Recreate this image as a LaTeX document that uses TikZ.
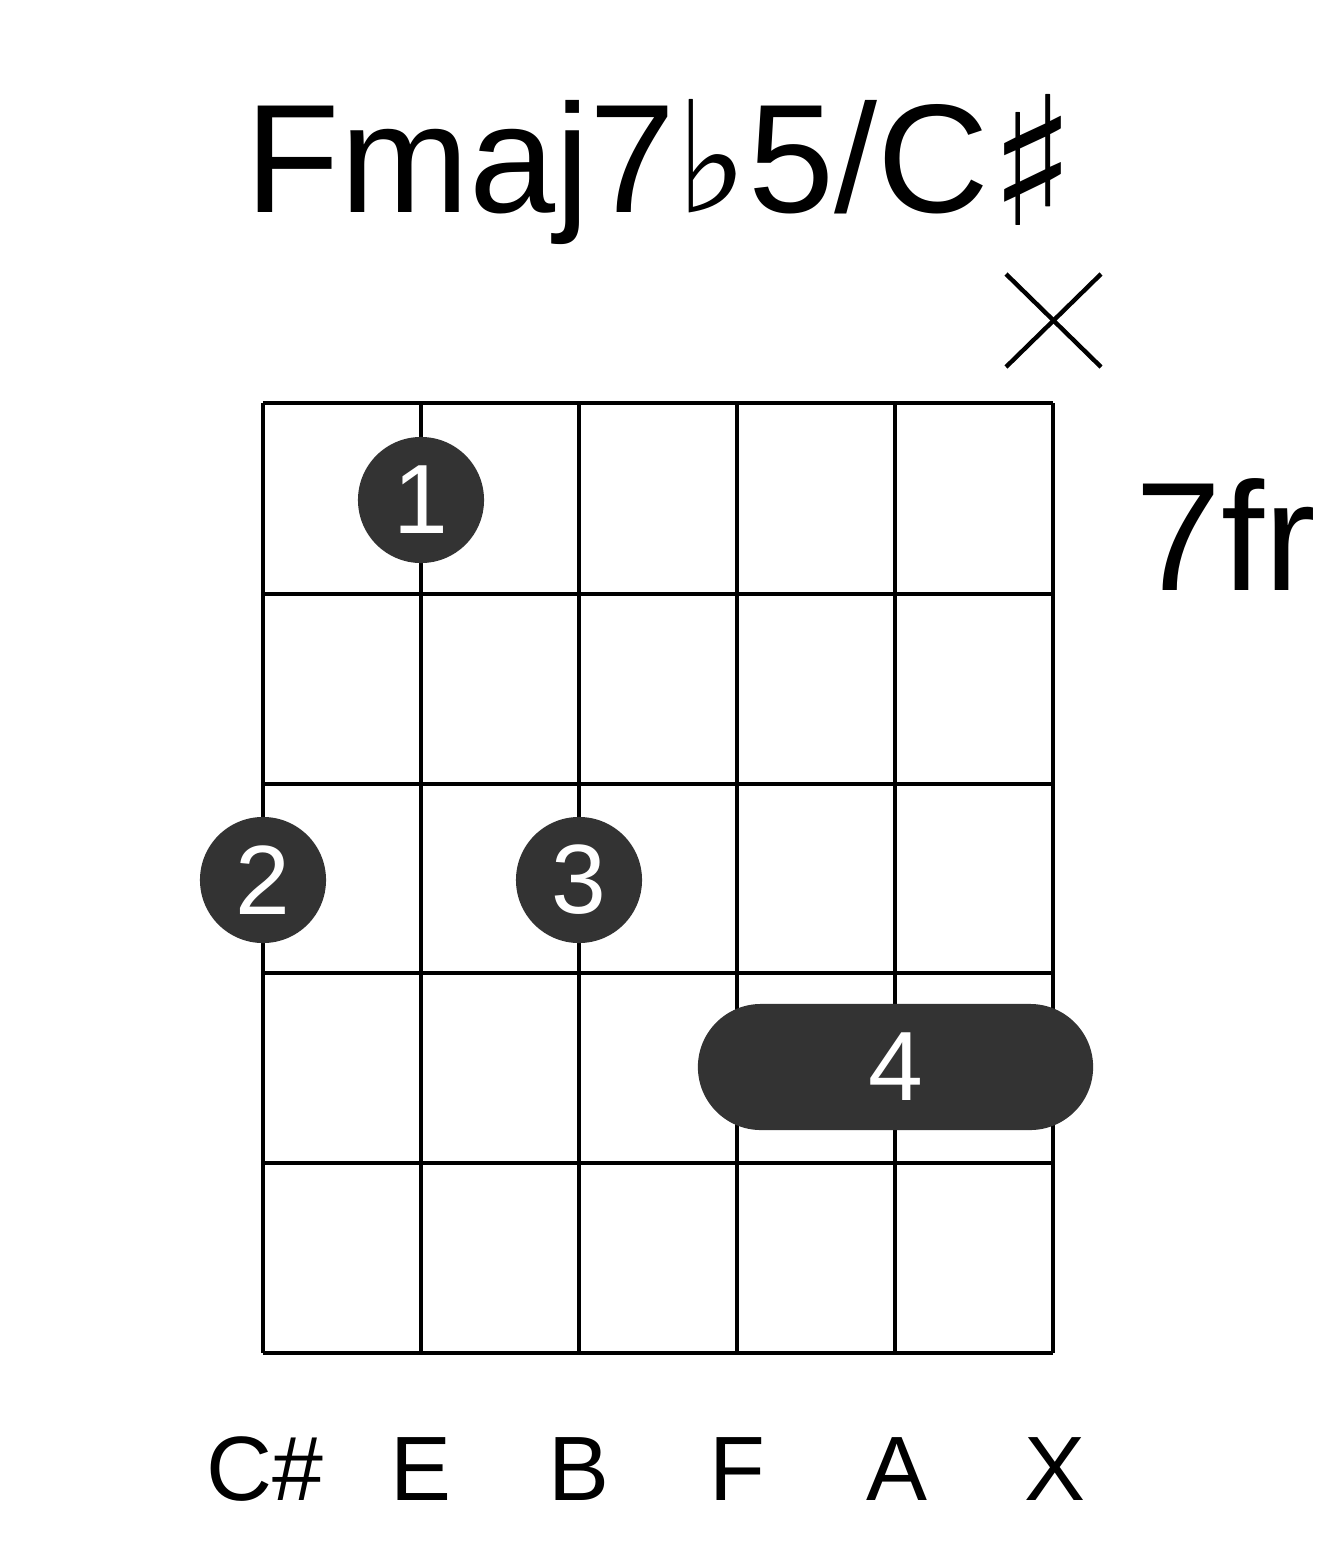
\documentclass[tikz,border=0pt]{standalone}
\usepackage{fontspec}
\setmainfont{Liberation Sans}
\newfontfamily\symfont{DejaVu Sans}
\usepackage{tikz}
\usetikzlibrary{positioning, calc}

\definecolor{dotgray}{HTML}{333333}

\newcommand{\flatsym}{{\symfont ♭}}
\newcommand{\sharpsym}{\raisebox{-0.13cm}{\symfont\fontsize{51}{56}\selectfont ♯}}

\tikzset{
    gridline/.style={line width=1.25pt},
    fingerdot/.style={circle, fill=dotgray, text=white, minimum size=1.26cm, inner sep=0pt, font=\fontsize{28}{30}\selectfont},
    barrebox/.style={rectangle, rounded corners=0.63cm, fill=dotgray, text=white, minimum width=3.95cm, minimum height=1.26cm, inner sep=0pt, font=\fontsize{28}{30}\selectfont},
    notelabel/.style={anchor=base, inner sep=0pt, font=\fontsize{26}{30}\selectfont},
    bigtext/.style={anchor=base, inner sep=0pt, font=\fontsize{44}{50}\selectfont}
}

\begin{document}
\begin{tikzpicture}[x=0.01cm, y=-0.01cm]
    \useasboundingbox (0,0) rectangle (1317,1551);

    % Title
    \node[bigtext] (title) at (661, 212) {Fmaj7\flatsym 5/C\sharpsym};

    % Grid: strings and frets
    \foreach \sx in {263, 421, 579, 737, 895, 1053}
        \draw[gridline] (\sx, 403) -- (\sx, 1353);
    \foreach \fy in {403, 594, 784, 973, 1163, 1353}
        \draw[gridline] (263, \fy) -- (1053, \fy);

    % Muted string
    \draw[gridline] (1006, 274) -- (1101, 367);
    \draw[gridline] (1006, 367) -- (1101, 274);

    % Fret position
    \node[bigtext] (fretpos) at (1226, 590) {7fr};

    % Fingers
    \node[fingerdot] (finger1) at (421, 500) {1};
    \node[fingerdot] (finger2) at (263, 880) {2};
    \node[fingerdot] (finger3) at (579, 880) {3};
    \node[barrebox] (finger4) at (895.5, 1067) {4};

    % Notes
    \node[notelabel] (note1) at (265, 1500) {C\#};
    \node[notelabel] (note2) at (421, 1500) {E};
    \node[notelabel] (note3) at (579, 1500) {B};
    \node[notelabel] (note4) at (737, 1500) {F};
    \node[notelabel] (note5) at (897, 1500) {A};
    \node[notelabel] (note6) at (1055, 1500) {X};
\end{tikzpicture}
\end{document}
